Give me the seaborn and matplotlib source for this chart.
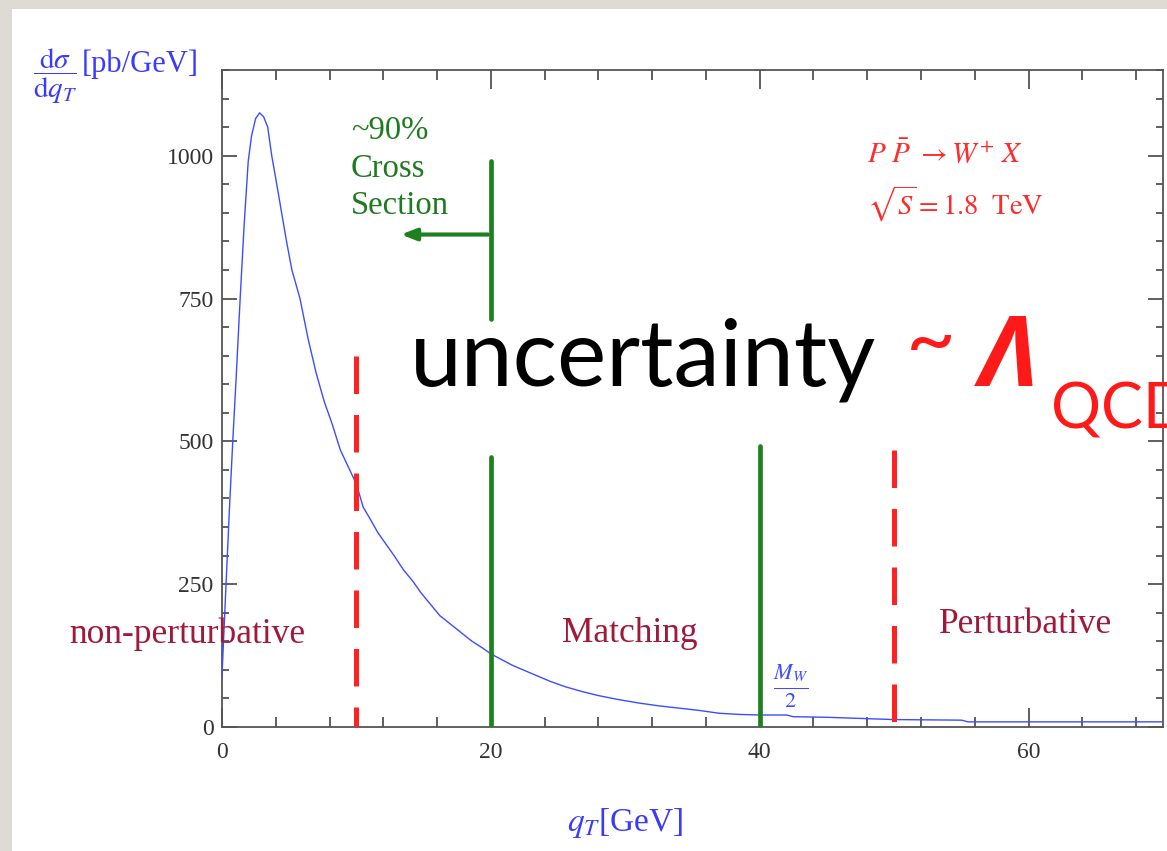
import numpy as np
import pandas as pd
import matplotlib
matplotlib.use("Agg")
import matplotlib.pyplot as plt
from matplotlib.patches import Rectangle
from matplotlib.ticker import MultipleLocator
import seaborn as sns

# q_T spectrum
qt = [0, 0.3, 0.55, 0.8, 1.05, 1.35, 1.65, 1.95, 2.2, 2.5, 2.8, 3.1, 3.4, 3.7,
      4.0, 4.4, 4.8, 5.2, 5.8, 6.4, 7.0, 7.6, 8.2, 8.8, 9.4, 10.0, 10.5, 11.0,
      11.6, 12.2, 12.8, 13.5, 14.2, 14.8, 15.5, 16.2, 17.0, 17.8, 18.6, 19.4,
      20.0, 20.8, 21.6, 22.4, 23.4, 24.4, 25.6, 26.8, 28.0, 29.5, 31.0, 32.5,
      34.0, 35.5, 37.0, 38.5, 40.0, 42.0, 42.5, 45.0, 47.5, 50.0, 55.0, 55.5,
      60.0, 70.0]
dsigma = [90, 250, 380, 500, 610, 750, 880, 990, 1035, 1065, 1075, 1068, 1050,
          1000, 960, 905, 850, 800, 750, 680, 620, 570, 530, 485, 455, 425, 385,
          365, 340, 320, 300, 275, 255, 235, 215, 195, 180, 165, 150, 138, 128,
          118, 108, 100, 90, 80, 70, 62, 55, 48, 42, 37, 33, 29, 24, 22, 21, 21,
          18, 17, 15, 13, 12, 9, 9, 9]

# region boundaries
red_cuts = [10, 50]
red_tops = [650, 484]
green_cuts = [20, 40]
green_tops = [472, 491]

regions = ["non-perturbative", "Matching", "Perturbative"]
region_x = [-2.6, 30.3, 59.8]
region_y = [162, 164, 180]

df = pd.DataFrame({"qt": qt, "dsigma": dsigma})

sns.set_style("ticks")
plt.rcParams["font.family"] = ["Liberation Serif", "DejaVu Serif"]
plt.rcParams["mathtext.fontset"] = "stix"

fig = plt.figure(figsize=(11.67, 8.51), dpi=100)
fig.patch.set_facecolor("#dedbd4")
fig.add_artist(Rectangle((12 / 1167, 0), 1, 1 - 9 / 851, transform=fig.transFigure,
                         facecolor="white", edgecolor="none", zorder=0))
ax = fig.add_axes([222 / 1167, 1 - 727 / 851, 941 / 1167, 657 / 851])
ax.set_zorder(1)

sns.lineplot(data=df, x="qt", y="dsigma", ax=ax, color="#3a4dff", lw=1.0, zorder=3)

ax.set_xlim(0, 70)
ax.set_ylim(0, 1150)
ax.set_xlabel("")
ax.set_ylabel("")
ax.set_xticks([0, 20, 40, 60])
ax.set_yticks([0, 250, 500, 750, 1000])
ax.xaxis.set_minor_locator(MultipleLocator(4))
ax.yaxis.set_minor_locator(MultipleLocator(50))
ax.tick_params(which="both", direction="in", top=True, right=True,
               colors="#444444", labelcolor="#333333", labelsize=17, width=1.2)
ax.tick_params(axis="x", which="major", length=14, pad=11)
ax.tick_params(axis="x", which="minor", length=7)
ax.tick_params(axis="y", which="major", length=11, pad=6)
ax.tick_params(axis="y", which="minor", length=5)
for s in ax.spines.values():
    s.set_visible(True)
    s.set_color("#555555")
    s.set_linewidth(1.3)

# vertical markers
for x, top in zip(red_cuts, red_tops):
    ax.plot([x, x], [top, 0], color="#ff2222", lw=3.6, dashes=(7.5, 4.2), zorder=4)
for x, top in zip(green_cuts, green_tops):
    ax.plot([x, x], [0, top], color="#1f801f", lw=3.4, zorder=4)
ax.plot([20, 20], [715, 990], color="#1f801f", lw=3.4, zorder=4)
ax.annotate("", xy=(13.1, 862), xytext=(20, 862),
            arrowprops=dict(arrowstyle="-|>,head_length=0.9,head_width=0.35",
                            color="#1f801f", lw=3), zorder=4)
ax.text(9.6, 978, "~90%\nCross\nSection", color="#1f7a1f", fontsize=23.5,
        ha="left", va="center", linespacing=1.28)

for lab, x, y in zip(regions, region_x, region_y):
    ax.text(x, y, lab, color="#a0183a", fontsize=25.5, ha="center", va="center",
            zorder=5, clip_on=False)

ax.text(42.3, 70, r"$\frac{M_W}{2}$", color="#3a4dff", fontsize=23, ha="center", va="center")
ax.text(48.0, 1005, r"$P\ \bar{P}\ \rightarrow W^{+}\ X$", color="#ff2a2a", fontsize=21,
        ha="left", va="center")
ax.text(48.0, 915, r"$\sqrt{S}=1.8\ \ \mathrm{TeV}$", color="#ff2a2a", fontsize=20.5,
        ha="left", va="center")

# axis titles
fig.text(33 / 1167, 1 - 76 / 851, r"$\dfrac{\mathrm{d}\sigma}{\mathrm{d}q_T}$",
         color="#3a3aff", fontsize=21, ha="left", va="center")
fig.text(82 / 1167, 1 - 64 / 851, "[pb/GeV]", color="#3a3aff", fontsize=22,
         ha="left", va="center")
fig.text(625 / 1167, 1 - 823 / 851, r"$q_T$[GeV]", color="#3a3aff", fontsize=24,
         ha="center", va="center")

# overlay
base = 1 - 386 / 851
fig.text(410 / 1167, base, "uncertainty", color="black", fontsize=67,
         family=["Lato", "DejaVu Sans"], va="baseline", ha="left", zorder=6)
fig.text(906 / 1167, base + 18 / 851, "~", color="#ff1a1a", fontsize=62,
         family=["Lato", "DejaVu Sans"], va="baseline", ha="left", zorder=6)
fig.text(980 / 1167, base, "Λ", color="#ff1a1a", fontsize=70, fontweight="bold",
         fontstyle="italic", family=["Open Sans", "DejaVu Sans"], va="baseline",
         ha="left", zorder=6)
fig.text(1051 / 1167, 1 - 428 / 851, "QCD", color="#ff1a1a", fontsize=45,
         family=["Lato", "DejaVu Sans"], va="baseline", ha="left", zorder=6)

fig.savefig("out.png", dpi=100, facecolor=fig.get_facecolor())
